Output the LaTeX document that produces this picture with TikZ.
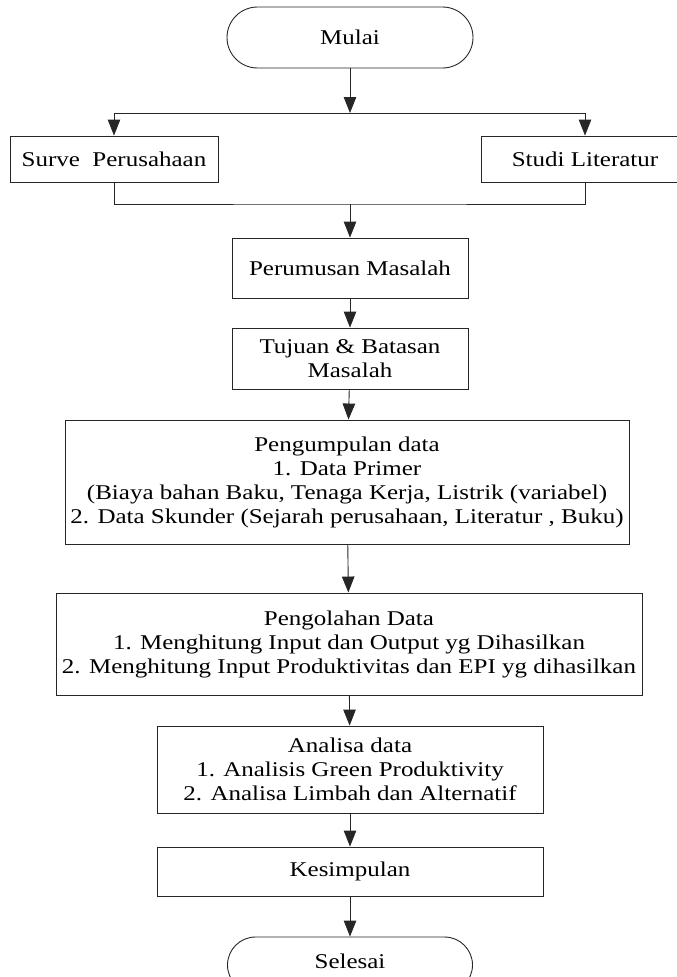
\documentclass[tikz,border=0pt]{standalone}
\usepackage{fontspec}
\setmainfont{Liberation Serif}[FakeStretch=1.19]
\usetikzlibrary{arrows.meta}
\tikzset{
  base/.style={draw=black!85, line width=0.9pt, font=\fontsize{21}{24}\selectfont, align=center, inner sep=0pt},
  procbox/.style={base, rectangle},
  terminal/.style={base, rectangle},
  flow/.style={draw=black!85, line width=0.9pt, -{Triangle[length=16pt,width=12.5pt]}},
  link/.style={draw=black!85, line width=0.9pt},
}
\begin{document}
\begin{tikzpicture}[x=1pt,y=-1pt]
\useasboundingbox (0,0) rectangle (677,977);
\clip (0,0) rectangle (677,977);
\node[terminal, rounded corners=30.5pt, minimum width=246pt, minimum height=61pt] (mulai) at (350,37.5) {Mulai};
\coordinate (split) at (350,113);
\coordinate (splitL) at (114,113);
\coordinate (splitR) at (585,113);
\node[procbox, minimum width=208pt, minimum height=46pt] (surve) at (114,159) {Surve~~Perusahaan};
\node[procbox, minimum width=208pt, minimum height=46pt] (studi) at (585,159) {Studi Literatur};
\coordinate (join) at (350,204);
\node[procbox, minimum width=236pt, minimum height=60pt] (rumus) at (350,268) {Perumusan Masalah};
\node[procbox, minimum width=236pt, minimum height=61pt] (tujuan) at (350,358.5) {Tujuan \& Batasan\\Masalah};
\node[procbox, minimum width=564pt, minimum height=124pt] (kumpul) at (347,482) {Pengumpulan data\\1. Data Primer\\(Biaya bahan Baku, Tenaga Kerja, Listrik (variabel)\\2. Data Skunder (Sejarah perusahaan, Literatur , Buku)};
\node[procbox, minimum width=586pt, minimum height=102pt] (olah) at (349,644) {Pengolahan Data\\1. Menghitung Input dan Output yg Dihasilkan\\2. Menghitung Input Produktivitas dan EPI yg dihasilkan};
\node[procbox, minimum width=386pt, minimum height=87pt] (analisa) at (350,769.5) {Analisa data\\1. Analisis Green Produktivity\\2. Analisa Limbah dan Alternatif};
\node[procbox, minimum width=386pt, minimum height=49pt] (simpul) at (350,871.5) {Kesimpulan};
\node[terminal, rounded corners=28pt, minimum width=245pt, minimum height=56pt, text depth=8pt] (selesai) at (350,965) {Selesai};
\draw[flow] (mulai) -- (split);
\draw[link] (splitL) -- (splitR);
\draw[flow] (splitL) -- (surve);
\draw[flow] (splitR) -- (studi);
\draw[link] (surve.south) |- (join) -| (studi.south);
\draw[flow] (join) -- (rumus);
\draw[flow] (rumus) -- (tujuan);
\draw[flow] (tujuan) -- (kumpul);
\draw[flow] (kumpul) -- (olah);
\draw[flow] (olah) -- (analisa);
\draw[flow] (analisa) -- (simpul);
\draw[flow] (simpul) -- (selesai);
\end{tikzpicture}
\end{document}
